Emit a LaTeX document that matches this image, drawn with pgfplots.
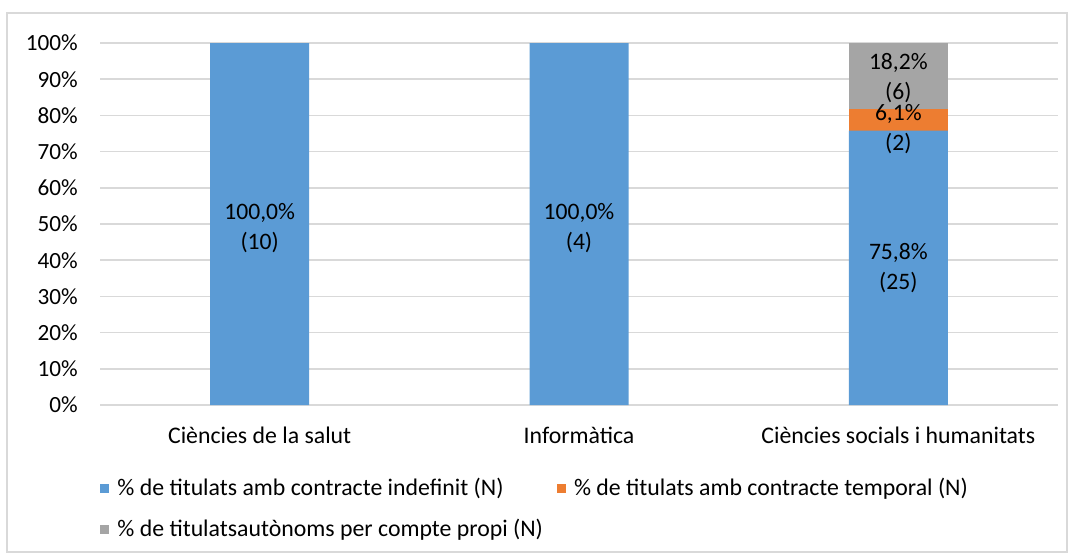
\documentclass[border=0pt]{standalone}
\usepackage{fontspec}
\setmainfont{Carlito}
\usepackage{pgfplots}
\pgfplotsset{compat=1.18}

\definecolor{cindef}{HTML}{5B9BD5}
\definecolor{ctemp}{HTML}{ED7D31}
\definecolor{cauto}{HTML}{A5A5A5}
\definecolor{cgrid}{HTML}{D9D9D9}

\pgfplotsset{
  base/.style={
    at={(0,0)}, anchor=south west,
    scale only axis, width=479pt, height=181pt,
    xmin=-0.5, xmax=2.5, ymin=0, ymax=100,
  }
}

\begin{document}
\fontsize{11.8}{15}\selectfont
\begin{tikzpicture}
\useasboundingbox (-50pt,-77pt) rectangle (487pt,202.5pt);
\draw[cgrid, line width=0.8pt] (-46.5pt,-73.5pt) rectangle (483.5pt,196pt);

\begin{axis}[
    base,
    ybar stacked,
    bar width=49.5pt,
    xtick={0,1,2},
    xticklabels={Ciències de la salut, Informàtica, Ciències socials i humanitats},
    ytick={0,10,...,100},
    yticklabel={\pgfmathprintnumber{\tick}\%},
    /pgf/number format/assume math mode=true,
    major tick length=0pt,
    axis x line*=bottom,
    axis y line*=left,
    y axis line style={draw=none},
    x axis line style={cgrid, line width=0.8pt},
    ymajorgrids=true,
    grid style={cgrid, line width=0.8pt},
    yticklabel style={font=\fontsize{11.6}{13}\selectfont, xshift=-7pt},
    xticklabel style={font=\fontsize{11.9}{13}\selectfont, yshift=-7pt},
    legend style={
        at={(0,-0.19)}, anchor=north west,
        draw=none, inner sep=0pt,
        font=\fontsize{11.9}{13}\selectfont,
        legend columns=2,
        row sep=6pt,
        /tikz/every odd column/.append style={column sep=2pt},
        /tikz/every even column/.append style={column sep=5pt},
    },
    legend cell align=left,
    legend image code/.code={\fill[#1] (0pt,-2pt) rectangle (4.5pt,2.5pt);},
]
\addplot[fill=cindef, draw=none] coordinates {(0,100) (1,100) (2,75.8)};
\addplot[fill=ctemp, draw=none] coordinates {(0,0) (1,0) (2,6.1)};
\addplot[fill=cauto, draw=none] coordinates {(0,0) (1,0) (2,18.2)};
\legend{\% de titulats amb contracte indefinit (N),
        \% de titulats amb contracte temporal (N),
        \% de titulatsautònoms per compte propi (N)}
\end{axis}

% data labels
\begin{axis}[
    base,
    hide axis,
    nodes near coords,
    point meta=explicit symbolic,
    every node near coord/.append style={anchor=center, align=center,
        font=\fontsize{11.8}{15}\selectfont, text=black},
]
\addplot[draw=none, mark=none] coordinates {
    (0,49) [100,0\%\\(10)]
    (1,49) [100,0\%\\(4)]
    (2,37.9) [75,8\%\\(25)]
    (2,76.3) [6,1\%\\(2)]
    (2,90.3) [18,2\%\\(6)]
};
\end{axis}
\end{tikzpicture}
\end{document}
